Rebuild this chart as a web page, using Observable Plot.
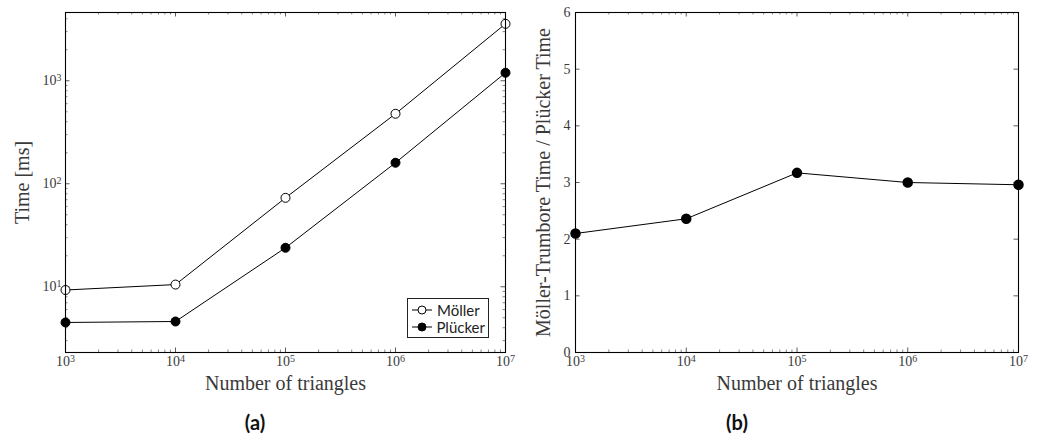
<!DOCTYPE html>
<html>
<head>
<meta charset="utf-8">
<script src="https://cdn.jsdelivr.net/npm/d3@7"></script>
<script src="https://cdn.jsdelivr.net/npm/@observablehq/plot@0.6"></script>
<style>
  body { margin: 0; background: white; }
  #wrap { position: relative; width: 1040px; height: 445px; overflow: hidden; background: white; }
  .panel { position: absolute; top: 0; }
  .legend { position: absolute; left: 407px; top: 298px; width: 82px; height: 40px; border: 1px solid #222; background: white;
            font-family: Lato, "Noto Sans", sans-serif; font-size: 15px; color: #222; box-sizing: border-box; padding: 2px 3px; }
  .legend .row { display: flex; align-items: center; height: 17.5px; }
  .legend svg { margin-right: 4px; }
  .cap { position: absolute; top: 410px; font-family: Lato, "Noto Sans", sans-serif; font-weight: 700; font-size: 20px; color: #111; transform: translateX(-50%); }
</style>
</head>
<body>
<div id="wrap"></div>
<script>
// ---- data ----
const triangles = [1e3, 1e4, 1e5, 1e6, 1e7];
const mollerMs  = [9.3, 10.5, 73, 478, 3570];
const pluckerMs = [4.5, 4.6, 23.9, 160, 1196];
const ratio     = [2.1, 2.36, 3.17, 3.0, 2.96];
const seriesNames = ["Möller", "Plücker"];
const xMajorTicks = [1e3, 1e4, 1e5, 1e6, 1e7];
const yMajorTicksA = [10, 100, 1000];
const yTicksB = [0, 1, 2, 3, 4, 5, 6];
const xLabel = "Number of triangles";
const yLabelA = "Time [ms]";
const yLabelB = "Möller-Trumbore Time / Plücker Time";
const captions = ["(a)", "(b)"];

const powFmt = d => "10^" + Math.round(Math.log10(d));

const serif = "'Liberation Serif', 'DejaVu Serif', serif";
const textColor = "#3a3a3a";
const H = 400, mTop = 12, mBottom = 48;
const PH = H - mTop - mBottom;

const xDomain = [1e3, 1e7];
const yDomainA = [2.3, 4600];
const xMinor = d3.scaleLog().domain(xDomain).ticks().filter(t => !xMajorTicks.includes(t));
const yMinorA = d3.scaleLog().domain(yDomainA).ticks().filter(t => !yMajorTicksA.includes(t) && t >= yDomainA[0] && t <= yDomainA[1]);

function xTickMarks(PW) {
  return [
    Plot.tickX(xMajorTicks, {x: d => d, insetTop: PH - 4.5, stroke: "#333", strokeWidth: 0.8}),
    Plot.tickX(xMajorTicks, {x: d => d, insetBottom: PH - 4.5, stroke: "#333", strokeWidth: 0.8}),
    Plot.tickX(xMinor, {x: d => d, insetTop: PH - 2.5, stroke: "#555", strokeWidth: 0.7}),
    Plot.tickX(xMinor, {x: d => d, insetBottom: PH - 2.5, stroke: "#555", strokeWidth: 0.7})
  ];
}
function yTickMarks(major, minor, PW) {
  const m = [
    Plot.tickY(major, {y: d => d, insetRight: PW - 4.5, stroke: "#333", strokeWidth: 0.8}),
    Plot.tickY(major, {y: d => d, insetLeft: PW - 4.5, stroke: "#333", strokeWidth: 0.8})
  ];
  if (minor.length) {
    m.push(Plot.tickY(minor, {y: d => d, insetRight: PW - 2.5, stroke: "#555", strokeWidth: 0.7}));
    m.push(Plot.tickY(minor, {y: d => d, insetLeft: PW - 2.5, stroke: "#555", strokeWidth: 0.7}));
  }
  return m;
}

const rowsA = [];
seriesNames.forEach((s, si) => triangles.forEach((t, i) => rowsA.push({series: s, n: t, ms: (si === 0 ? mollerMs : pluckerMs)[i]})));
const rowsB = triangles.map((t, i) => ({n: t, r: ratio[i]}));

const axisText = {fontSize: 14, fill: textColor};

// ---- panel (a) ----
const WA = 520, mLA = 65, mRA = 15;
const PWA = WA - mLA - mRA;
const plotA = Plot.plot({
  width: WA, height: H,
  marginLeft: mLA, marginRight: mRA, marginTop: mTop, marginBottom: mBottom,
  x: {type: "log", domain: xDomain},
  y: {type: "log", domain: yDomainA},
  style: {fontFamily: serif, fontSize: "14px", color: textColor, background: "white"},
  marks: [
    ...xTickMarks(PWA),
    ...yTickMarks(yMajorTicksA, yMinorA, PWA),
    Plot.axisX(xMajorTicks, {tickSize: 0, tickPadding: 4, tickFormat: powFmt, label: null, ...axisText}),
    Plot.axisY(yMajorTicksA, {tickSize: 0, tickPadding: 4, tickFormat: powFmt, label: null, ...axisText}),
    Plot.text([xLabel], {frameAnchor: "bottom", lineAnchor: "middle", dy: 31, fontSize: 20, fill: textColor}),
    Plot.text([yLabelA], {frameAnchor: "left", textAnchor: "middle", lineAnchor: "middle", rotate: -90, dx: -43, fontSize: 20, fill: textColor}),
    Plot.line(rowsA, {x: "n", y: "ms", z: "series", stroke: "black", strokeWidth: 1}),
    Plot.dot(rowsA, {x: "n", y: "ms", r: 4.5, stroke: "black", strokeWidth: 1,
                     fill: d => d.series === seriesNames[0] ? "white" : "black"}),
    Plot.frame({stroke: "black", strokeWidth: 1.1})
  ]
});

// ---- panel (b) ----
const WB = 520, mLB = 55, mRB = 22;
const PWB = WB - mLB - mRB;
const plotB = Plot.plot({
  width: WB, height: H,
  marginLeft: mLB, marginRight: mRB, marginTop: mTop, marginBottom: mBottom,
  x: {type: "log", domain: xDomain},
  y: {domain: [0, 6]},
  style: {fontFamily: serif, fontSize: "14px", color: textColor, background: "white"},
  marks: [
    ...xTickMarks(PWB),
    ...yTickMarks(yTicksB, [], PWB),
    Plot.axisX(xMajorTicks, {tickSize: 0, tickPadding: 4, tickFormat: powFmt, label: null, ...axisText}),
    Plot.axisY(yTicksB, {tickSize: 0, tickPadding: 5, tickFormat: d => String(d), label: null, ...axisText}),
    Plot.text([xLabel], {frameAnchor: "bottom", lineAnchor: "middle", dy: 31, fontSize: 20, fill: textColor}),
    Plot.text([yLabelB], {frameAnchor: "left", textAnchor: "middle", lineAnchor: "middle", rotate: -90, dx: -32, fontSize: 20, fill: textColor}),
    Plot.line(rowsB, {x: "n", y: "r", stroke: "black", strokeWidth: 1}),
    Plot.dot(rowsB, {x: "n", y: "r", r: 4.5, fill: "black", stroke: "black"}),
    Plot.frame({stroke: "black", strokeWidth: 1.1})
  ]
});

// render "10^k" tick labels as 10 with a superscript exponent
function superscriptify(svg) {
  svg.querySelectorAll("text").forEach(t => {
    const m = /^10\^(\d+)$/.exec(t.textContent);
    if (!m) return;
    t.textContent = "";
    const base = document.createElementNS("http://www.w3.org/2000/svg", "tspan");
    base.textContent = "10";
    const ex = document.createElementNS("http://www.w3.org/2000/svg", "tspan");
    ex.textContent = m[1];
    ex.setAttribute("font-size", "10px");
    ex.setAttribute("dy", "-0.45em");
    t.appendChild(base);
    t.appendChild(ex);
  });
}
superscriptify(plotA);
superscriptify(plotB);

const wrap = document.getElementById("wrap");
plotA.classList.add("panel"); plotA.style.left = "0px";
plotB.classList.add("panel"); plotB.style.left = "520px";
wrap.appendChild(plotA);
wrap.appendChild(plotB);

// legend
const leg = document.createElement("div");
leg.className = "legend";
seriesNames.forEach((s, i) => {
  const row = document.createElement("div");
  row.className = "row";
  row.innerHTML = `<svg width="22" height="12"><line x1="1" x2="21" y1="6" y2="6" stroke="black" stroke-width="1"/>` +
    `<circle cx="11" cy="6" r="4" stroke="black" stroke-width="1" fill="${i === 0 ? "white" : "black"}"/></svg>`;
  const span = document.createElement("span");
  span.textContent = s;
  row.appendChild(span);
  leg.appendChild(row);
});
wrap.appendChild(leg);

// captions
[[255, captions[0]], [737, captions[1]]].forEach(([x, t]) => {
  const c = document.createElement("div");
  c.className = "cap";
  c.style.left = x + "px";
  c.textContent = t;
  wrap.appendChild(c);
});
</script>
</body>
</html>
